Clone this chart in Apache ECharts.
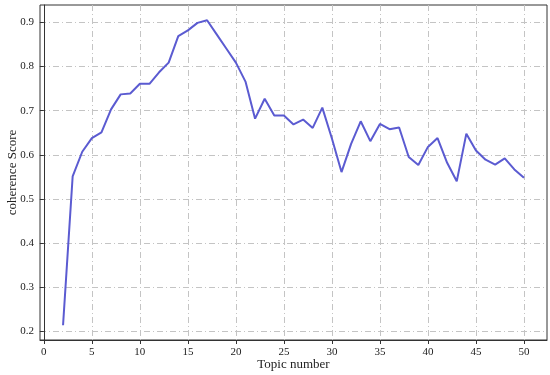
<!DOCTYPE html>
<html>
<head>
<meta charset="UTF-8"/>
<title>coherence Score</title>
<script src="https://cdn.jsdelivr.net/npm/echarts@6/dist/echarts.min.js"></script>
<style>
  html, body { margin: 0; padding: 0; background: #fff; }
  #chart { width: 550px; height: 375px; }
</style>
</head>
<body>
<div id="chart"></div>
<script type="text/javascript">
    // topic numbers 2..50
    var topics = [2, 3, 4, 5, 6, 7, 8, 9, 10, 11, 12, 13, 14, 15, 16, 17, 18, 19, 20, 21,
        22, 23, 24, 25, 26, 27, 28, 29, 30, 31, 32, 33, 34, 35, 36, 37, 38, 39, 40, 41,
        42, 43, 44, 45, 46, 47, 48, 49, 50];
    var scores = [0.214, 0.551, 0.607, 0.638, 0.651, 0.703, 0.737, 0.739, 0.761, 0.761,
        0.787, 0.809, 0.869, 0.882, 0.899, 0.905, 0.873, 0.841, 0.809, 0.766,
        0.682, 0.727, 0.689, 0.689, 0.669, 0.680, 0.661, 0.707, 0.637, 0.561,
        0.625, 0.676, 0.631, 0.670, 0.658, 0.662, 0.595, 0.577, 0.618, 0.638,
        0.582, 0.540, 0.648, 0.610, 0.589, 0.578, 0.592, 0.567, 0.548];
    var xTicks = [0, 5, 10, 15, 20, 25, 30, 35, 40, 45, 50];
    var yTicks = [0.2, 0.3, 0.4, 0.5, 0.6, 0.7, 0.8, 0.9];

    var pts = [];
    for (let i = 0; i < topics.length; i++) {
        pts.push([topics[i], scores[i]]);
    }

    var font = 'Liberation Serif';
    var gridLine = { color: '#c4c4c4', width: 1, type: [6, 3, 1, 3] };

    const chart = echarts.init(document.getElementById('chart'));
    chart.setOption({
        animation: false,
        grid: {
            left: 40, right: 3, top: 5, bottom: 35,
            containLabel: false, outerBoundsMode: 'none',
            show: true, borderColor: '#333', borderWidth: 1
        },
        xAxis: {
            type: 'value',
            min: -0.4,
            max: 52.4,
            name: 'Topic number',
            nameLocation: 'middle',
            nameGap: 18,
            nameMoveOverlap: false,
            nameTextStyle: { fontFamily: font, fontSize: 13, color: '#222' },
            axisLine: { show: true, lineStyle: { color: '#333' } },
            axisTick: { show: true, length: 4, customValues: xTicks, lineStyle: { color: '#333' } },
            axisLabel: {
                customValues: xTicks, fontFamily: font, fontSize: 11, color: '#222', margin: 7
            },
            splitLine: { show: true, lineStyle: gridLine }
        },
        yAxis: {
            type: 'value',
            min: 0.1805,
            max: 0.9395,
            name: 'coherence Score',
            nameLocation: 'middle',
            nameGap: 21,
            nameMoveOverlap: false,
            nameTextStyle: { fontFamily: font, fontSize: 13, color: '#222' },
            axisLine: { show: true, lineStyle: { color: '#333' } },
            axisTick: { show: true, length: 4, customValues: yTicks, lineStyle: { color: '#333' } },
            axisLabel: {
                customValues: yTicks, fontFamily: font, fontSize: 11, color: '#222', margin: 6,
                formatter: function (v) { return v.toFixed(1); }
            },
            splitLine: { show: true, lineStyle: gridLine }
        },
        series: [
            {
                type: 'line',
                data: pts,
                showSymbol: false,
                lineStyle: { color: '#5b5bd1', width: 2 },
                itemStyle: { color: '#5b5bd1' }
            }
        ]
    });
</script>
</body>
</html>
